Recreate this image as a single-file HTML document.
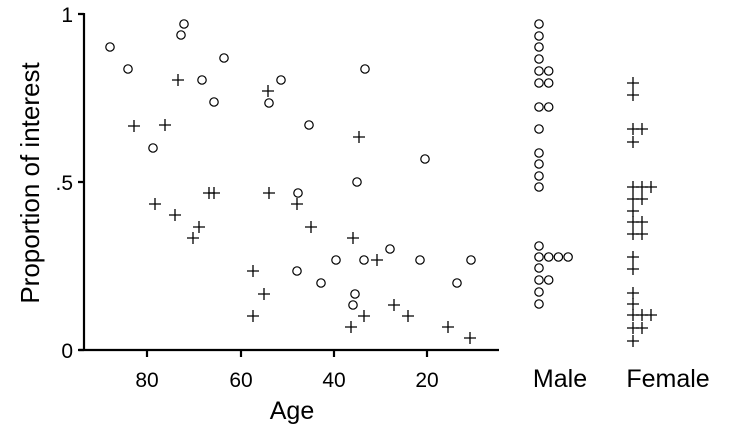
<!DOCTYPE html>
<html><head><style>html,body{margin:0;padding:0;background:#fff}svg{display:block}</style></head>
<body>
<svg width="729" height="441" viewBox="0 0 729 441" xmlns="http://www.w3.org/2000/svg" font-family="Liberation Sans, Arial, sans-serif">
<defs>
<g id="c"><circle r="4.2" fill="none" stroke="#000" stroke-width="1.2"/></g>
<g id="p"><path d="M-6 0H6M0 -6V6" stroke="#000" stroke-width="1.3"/></g>
</defs>
<g stroke="#000" stroke-width="2.2" fill="none">
<path d="M84 13V351"/>
<path d="M78 14H84M78 182H84M78 350H84"/>
<path d="M79 350H499"/>
<path d="M147 350V357M241 350V357M334 350V357M427 350V357"/>
</g>
<g font-size="21" fill="#000">
<text x="73" y="22" text-anchor="end">1</text>
<text x="73" y="190" text-anchor="end">.5</text>
<text x="73" y="358" text-anchor="end">0</text>
<text x="147" y="387" text-anchor="middle">80</text>
<text x="241" y="387" text-anchor="middle">60</text>
<text x="334" y="387" text-anchor="middle">40</text>
<text x="427" y="387" text-anchor="middle">20</text>
</g>
<g font-size="25" fill="#000">
<text x="292" y="419" text-anchor="middle">Age</text>
<text x="560" y="387" text-anchor="middle">Male</text>
<text x="668" y="387" text-anchor="middle">Female</text>
<text transform="translate(39,183) rotate(-90)" text-anchor="middle" font-size="26">Proportion of interest</text>
</g>
<g>
<use href="#c" x="110" y="47"/><use href="#c" x="128" y="69"/><use href="#c" x="184" y="24"/><use href="#c" x="181" y="35"/>
<use href="#c" x="224" y="58"/><use href="#c" x="202" y="80"/><use href="#c" x="214" y="102"/><use href="#c" x="153" y="148"/>
<use href="#c" x="281" y="80"/><use href="#c" x="269" y="103"/><use href="#c" x="365" y="69"/><use href="#c" x="309" y="125"/>
<use href="#c" x="425" y="159"/><use href="#c" x="357" y="182"/><use href="#c" x="298" y="193"/>
<use href="#c" x="390" y="249"/><use href="#c" x="336" y="260"/><use href="#c" x="364" y="260"/><use href="#c" x="420" y="260"/>
<use href="#c" x="471" y="260"/><use href="#c" x="297" y="271"/><use href="#c" x="321" y="283"/><use href="#c" x="457" y="283"/>
<use href="#c" x="355" y="294"/><use href="#c" x="353" y="305"/>
</g>
<g>
<use href="#p" x="268" y="91"/><use href="#p" x="178" y="80"/><use href="#p" x="134" y="126"/><use href="#p" x="165" y="125"/>
<use href="#p" x="359" y="137"/><use href="#p" x="269" y="193"/><use href="#p" x="209" y="193"/><use href="#p" x="214" y="193"/>
<use href="#p" x="155" y="204"/><use href="#p" x="175" y="215"/><use href="#p" x="199" y="227"/><use href="#p" x="193" y="238"/>
<use href="#p" x="253" y="271"/><use href="#p" x="264" y="294"/><use href="#p" x="253" y="316"/>
<use href="#p" x="297" y="204"/><use href="#p" x="311" y="227"/><use href="#p" x="353" y="238"/><use href="#p" x="377" y="260"/>
<use href="#p" x="394" y="305"/><use href="#p" x="364" y="316"/><use href="#p" x="408" y="316"/><use href="#p" x="351" y="327"/>
<use href="#p" x="448" y="327"/><use href="#p" x="470" y="338"/>
</g>
<g>
<use href="#c" x="539" y="24"/><use href="#c" x="539" y="36"/><use href="#c" x="539" y="47"/><use href="#c" x="539" y="59"/>
<use href="#c" x="539" y="71"/><use href="#c" x="548.7" y="71"/><use href="#c" x="539" y="83"/><use href="#c" x="548.7" y="83"/>
<use href="#c" x="539" y="107"/><use href="#c" x="548.7" y="107"/><use href="#c" x="539" y="129"/>
<use href="#c" x="539" y="153"/><use href="#c" x="539" y="164"/><use href="#c" x="539" y="176"/><use href="#c" x="539" y="187"/>
<use href="#c" x="539" y="246"/><use href="#c" x="539" y="257"/><use href="#c" x="548.7" y="257"/><use href="#c" x="558.4" y="257"/><use href="#c" x="568.1" y="257"/>
<use href="#c" x="539" y="268"/><use href="#c" x="539" y="280"/><use href="#c" x="548.7" y="280"/><use href="#c" x="539" y="292"/><use href="#c" x="539" y="304"/>
</g>
<g>
<use href="#p" x="633" y="83"/><use href="#p" x="633" y="95"/><use href="#p" x="633" y="129"/><use href="#p" x="642" y="129"/><use href="#p" x="633" y="142"/>
<use href="#p" x="633" y="187"/><use href="#p" x="642" y="187"/><use href="#p" x="651" y="187"/><use href="#p" x="633" y="199"/><use href="#p" x="642" y="199"/>
<use href="#p" x="633" y="211"/><use href="#p" x="633" y="222"/><use href="#p" x="642" y="222"/><use href="#p" x="633" y="234"/><use href="#p" x="642" y="234"/>
<use href="#p" x="633" y="257"/><use href="#p" x="633" y="269"/><use href="#p" x="633" y="293"/><use href="#p" x="633" y="304"/>
<use href="#p" x="633" y="315"/><use href="#p" x="642" y="315"/><use href="#p" x="651" y="315"/><use href="#p" x="633" y="328"/><use href="#p" x="642" y="328"/><use href="#p" x="633" y="341"/>
</g>
</svg>
</body></html>
